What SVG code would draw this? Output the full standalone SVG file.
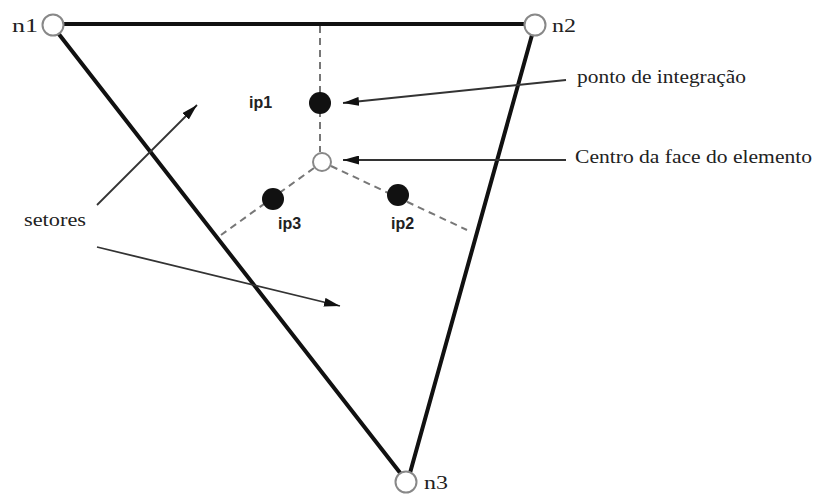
<svg xmlns="http://www.w3.org/2000/svg" width="820" height="495" viewBox="0 0 820 495">
<style>
.edge{stroke:#111;stroke-width:4;fill:none;stroke-linecap:round}
.dash{stroke:#777;stroke-width:2;stroke-dasharray:7 5;fill:none}
.arr{stroke:#333;stroke-width:1.8;fill:none;marker-end:url(#ah)}
.node{fill:#fff;stroke:#888;stroke-width:2}
.ip{fill:#111}
.lbl{font-family:"Liberation Serif",serif;font-size:18px;fill:#222}
.ipl{font-family:"Liberation Sans",sans-serif;font-weight:bold;font-size:16px;fill:#222}
</style>
<defs>
<marker id="ah" viewBox="0 0 10 10" refX="10" refY="5" markerWidth="16" markerHeight="9" markerUnits="userSpaceOnUse" orient="auto" preserveAspectRatio="none">
<path d="M0,0 L10,5 L0,10 z" fill="#111"/>
</marker>
</defs>
<rect width="820" height="495" fill="#fff"/>
<g id="connectors">
<line class="edge" x1="53" y1="24" x2="535" y2="24"/>
<line class="edge" x1="58" y1="33" x2="401" y2="474"/>
<line class="edge" x1="532" y1="35" x2="410" y2="473"/>
<line class="dash" x1="320" y1="26" x2="320" y2="152"/>
<line class="dash" x1="314" y1="168" x2="221" y2="235"/>
<line class="dash" x1="331" y1="166" x2="467" y2="230"/>
<line class="arr" x1="566" y1="80" x2="343" y2="103"/>
<line class="arr" x1="566" y1="160" x2="343" y2="160"/>
<line class="arr" x1="97" y1="205" x2="197" y2="105"/>
<line class="arr" x1="97" y1="247" x2="340" y2="306"/>
</g>
<g id="n1"><circle class="node" cx="53" cy="25" r="10.5"/><text class="lbl" x="12" y="32" textLength="26" lengthAdjust="spacingAndGlyphs">n1</text></g>
<g id="n2"><circle class="node" cx="535" cy="25" r="10.5"/><text class="lbl" x="552" y="32" textLength="24" lengthAdjust="spacingAndGlyphs">n2</text></g>
<g id="n3"><circle class="node" cx="406" cy="482" r="10.5"/><text class="lbl" x="424" y="489" textLength="24" lengthAdjust="spacingAndGlyphs">n3</text></g>
<g id="center"><circle class="node" cx="322" cy="162" r="9"/></g>
<g id="ip1"><circle class="ip" cx="320" cy="103" r="11"/><text class="ipl" x="249" y="108">ip1</text></g>
<g id="ip2"><circle class="ip" cx="398" cy="195" r="11"/><text class="ipl" x="391" y="229">ip2</text></g>
<g id="ip3"><circle class="ip" cx="273" cy="199" r="11"/><text class="ipl" x="278" y="229">ip3</text></g>
<g id="label-ponto"><text class="lbl" x="577" y="83" textLength="169" lengthAdjust="spacingAndGlyphs">ponto de integração</text></g>
<g id="label-centro"><text class="lbl" x="575" y="163" textLength="237" lengthAdjust="spacingAndGlyphs">Centro da face do elemento</text></g>
<g id="label-setores"><text class="lbl" x="24" y="226" textLength="62" lengthAdjust="spacingAndGlyphs">setores</text></g>
</svg>
